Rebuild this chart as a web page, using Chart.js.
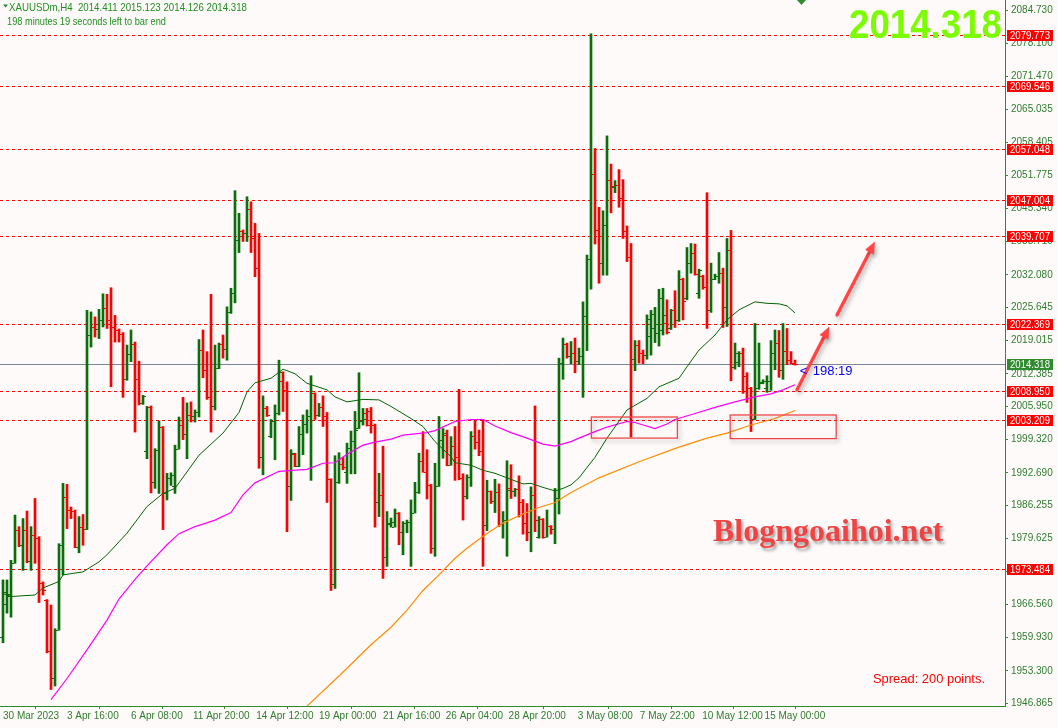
<!DOCTYPE html>
<html>
<head>
<meta charset="utf-8">
<script src="https://cdn.jsdelivr.net/npm/chart.js@4.4.1/dist/chart.umd.min.js"></script>
<style>
  html, body { margin: 0; padding: 0; background: #fffafa; overflow: hidden; }
  canvas { display: block; }
</style>
</head>
<body>
<canvas id="chart" width="1058" height="728"></canvas>
<script>
// XAUUSDm H4 bars (oldest first)
const barOpen = [
  1960.0, 1966.7, 1968.2, 1974.8, 1981.3, 1978.3, 1981.3, 1975.1, 1980.3, 1979.8,
  1970.8, 1967.4, 1957.2, 1951.8, 1961.5, 1978.4, 1987.9, 1985.3, 1985.1, 1978.0,
  1982.0, 1981.6, 2020.2, 2021.7, 2021.3, 2023.0, 2025.4, 2023.0, 2021.7, 2021.1,
  2020.4, 2011.3, 2016.4, 2018.4, 2011.3, 2006.5, 1997.0, 2005.7, 1990.9, 1997.3,
  2001.8, 1988.6, 1991.6, 1990.0, 1997.5, 2002.2, 2000.5, 2004.2, 2004.0, 2004.8,
  2017.2, 2013.1, 2007.7, 2006.0, 2013.6, 2018.3, 2017.4, 2024.6, 2028.5, 2039.0,
  2040.8, 2040.4, 2045.1, 2039.3, 2033.4, 1995.8, 2005.5, 2000.0, 2003.1, 2004.5,
  2011.0, 2009.2, 1990.1, 1996.4, 1994.1, 2000.4, 2002.4, 2004.0, 2008.5, 2004.2,
  2005.7, 2003.9, 1991.4, 1970.6, 1990.8, 1994.5, 1992.9, 1997.6, 1999.1, 2001.6,
  2003.0, 2004.5, 2005.0, 2002.2, 1986.8, 1988.2, 1975.9, 1982.6, 1982.0, 1984.7,
  1981.0, 1982.7, 1983.0, 1984.8, 1988.8, 1995.1, 1992.9, 1990.3, 1977.7, 1990.1,
  1999.3, 2000.3, 1994.3, 1998.0, 1995.9, 1991.6, 1988.1, 1991.9, 2000.0, 1998.9,
  1997.1, 1982.3, 1989.0, 1987.0, 1988.8, 1982.5, 1983.3, 1989.6, 1989.0, 1989.4,
  1986.8, 1982.8, 1981.0, 1988.3, 1980.0, 1983.5, 1980.0, 1982.1, 1981.5, 1987.6,
  2014.6, 2018.3, 2015.9, 2016.5, 2015.0, 2015.9, 2023.8, 2035.2, 2052.1, 2041.0,
  2034.5, 2042.0, 2051.0, 2049.5, 2050.0, 2047.3, 2040.7, 2035.6, 2015.3, 2018.1,
  2016.6, 2016.1, 2020.0, 2021.4, 2020.5, 2021.0, 2022.4, 2021.4, 2025.0, 2023.1,
  2031.2, 2027.5, 2034.5, 2036.5, 2028.5, 2031.8, 2029.6, 2025.1, 2031.2, 2031.9,
  2032.5, 2025.7, 2037.0, 2013.8, 2014.8, 2016.6, 2012.0, 2009.5, 2003.4, 2009.5,
  2010.5, 2009.5, 2011.0, 2016.5, 2018.5, 2013.2, 2017.0, 2015.1, 2014.411
];
const barHigh = [
  1971.4, 1971.4, 1975.3, 1984.3, 1982.0, 1983.6, 1985.1, 1982.0, 1987.6, 1980.0,
  1971.0, 1967.5, 1966.4, 1961.7, 1978.6, 1990.6, 1990.4, 1985.9, 1985.3, 1984.0,
  1984.4, 2025.0, 2024.7, 2023.7, 2025.2, 2028.3, 2028.2, 2029.5, 2024.0, 2021.3,
  2020.6, 2018.1, 2021.1, 2018.7, 2014.9, 2008.1, 2005.9, 2006.0, 1997.5, 2003.0,
  2001.9, 1992.6, 1992.7, 1998.2, 2003.8, 2007.7, 2006.6, 2006.8, 2005.2, 2019.2,
  2021.1, 2016.8, 2028.2, 2018.1, 2018.5, 2020.1, 2025.7, 2029.4, 2048.8, 2044.3,
  2041.0, 2047.6, 2046.6, 2042.3, 2040.3, 2008.0, 2005.9, 2003.3, 2006.2, 2015.1,
  2012.8, 2010.8, 1997.3, 1996.6, 2001.9, 2004.2, 2005.2, 2012.0, 2008.6, 2006.5,
  2008.0, 2004.7, 1991.5, 1996.1, 1996.7, 1995.8, 1998.6, 2001.0, 2004.9, 2012.6,
  2005.5, 2005.5, 2005.7, 2002.4, 1992.6, 1998.0, 1985.0, 1983.7, 1985.5, 1984.8,
  1983.0, 1983.3, 1987.3, 1990.8, 1996.6, 2000.9, 1997.3, 1990.4, 1994.6, 2003.9,
  2001.5, 2001.2, 1999.9, 2001.9, 2009.3, 1992.5, 1992.3, 2000.9, 2003.2, 2001.2,
  2003.3, 1991.2, 1989.1, 1991.4, 1990.5, 1985.0, 1995.1, 1994.3, 1989.6, 1992.1,
  1987.4, 1986.6, 1989.9, 2006.0, 1984.0, 1983.6, 1985.3, 1982.2, 1989.6, 2015.5,
  2019.5, 2018.5, 2018.8, 2019.5, 2017.5, 2026.7, 2036.0, 2080.0, 2057.2, 2045.5,
  2044.8, 2059.7, 2054.1, 2050.8, 2053.0, 2051.0, 2041.8, 2038.3, 2019.0, 2019.0,
  2017.1, 2024.1, 2025.0, 2025.6, 2029.2, 2029.4, 2027.1, 2025.2, 2028.9, 2032.9,
  2031.4, 2037.5, 2038.3, 2038.2, 2033.2, 2032.0, 2048.4, 2034.4, 2032.2, 2036.5,
  2033.4, 2039.3, 2040.9, 2018.5, 2016.8, 2017.5, 2012.6, 2009.7, 2022.4, 2018.5,
  2011.2, 2012.0, 2019.0, 2021.1, 2021.0, 2022.4, 2021.4, 2016.8, 2015.123
];
const barLow = [
  1958.9, 1964.8, 1964.0, 1974.7, 1978.0, 1973.3, 1974.8, 1973.3, 1974.7, 1966.9,
  1968.4, 1956.9, 1949.6, 1950.3, 1961.4, 1972.4, 1981.6, 1983.6, 1977.8, 1976.8,
  1978.3, 1981.4, 2017.7, 2019.7, 2019.4, 2021.7, 2021.4, 2009.8, 2018.7, 2018.7,
  2007.7, 2011.1, 2014.8, 2000.8, 2006.2, 2006.3, 1995.5, 1988.7, 1989.6, 1988.6,
  1981.4, 1987.3, 1990.2, 1988.6, 1997.4, 1999.3, 1995.5, 2002.8, 2002.8, 2003.8,
  2011.6, 2007.3, 2000.8, 2005.2, 2013.4, 2015.5, 2015.1, 2024.4, 2026.5, 2036.5,
  2038.7, 2038.7, 2036.5, 2031.7, 1993.6, 1992.3, 2003.9, 1999.7, 1995.3, 2004.2,
  2004.9, 1981.0, 1987.2, 1993.9, 1993.9, 1996.3, 2000.6, 1991.2, 2003.3, 2003.9,
  2001.9, 1986.8, 1969.3, 1969.7, 1990.6, 1993.3, 1990.6, 1992.5, 1992.5, 2001.5,
  2002.2, 2002.0, 2000.6, 1981.9, 1984.0, 1971.7, 1974.1, 1981.9, 1981.9, 1978.4,
  1976.4, 1980.8, 1974.1, 1984.7, 1988.6, 1992.8, 1987.5, 1976.7, 1976.1, 1990.0,
  1995.6, 1994.1, 1994.2, 1991.2, 1991.3, 1983.3, 1987.5, 1990.0, 1997.4, 1996.1,
  1974.1, 1981.2, 1986.6, 1984.8, 1982.0, 1979.7, 1976.1, 1987.6, 1988.0, 1983.9,
  1980.5, 1979.2, 1977.0, 1981.0, 1979.7, 1979.7, 1979.9, 1980.5, 1978.6, 1984.5,
  2011.3, 2015.5, 2014.4, 2012.6, 2014.2, 2007.7, 2017.0, 2029.2, 2038.2, 2030.4,
  2032.0, 2032.0, 2044.4, 2048.4, 2045.5, 2039.3, 2034.7, 1999.8, 2013.0, 2014.5,
  2014.4, 2015.3, 2016.1, 2018.6, 2017.9, 2020.1, 2020.3, 2021.2, 2021.6, 2022.8,
  2023.1, 2027.1, 2032.4, 2032.0, 2027.4, 2029.2, 2021.4, 2024.6, 2031.1, 2030.4,
  2021.6, 2021.8, 2011.0, 2013.3, 2013.8, 2008.5, 2006.7, 2000.9, 2003.3, 2009.3,
  2010.4, 2008.7, 2009.1, 2013.2, 2011.7, 2011.3, 2014.2, 2014.4, 2014.126
];
const barClose = [
  1969.0, 1968.7, 1974.8, 1981.3, 1978.3, 1981.3, 1975.1, 1980.3, 1979.8, 1970.8,
  1969.4, 1957.2, 1951.8, 1961.5, 1978.4, 1987.9, 1985.3, 1985.1, 1978.0, 1982.0,
  1981.6, 2020.2, 2021.7, 2021.3, 2023.0, 2025.4, 2023.0, 2021.7, 2021.1, 2020.4,
  2011.3, 2016.4, 2018.4, 2011.3, 2006.5, 2007.9, 2005.7, 1990.9, 1997.3, 2001.8,
  1988.6, 1991.6, 1992.2, 1997.5, 2002.2, 2000.5, 2004.2, 2004.0, 2004.8, 2017.2,
  2013.1, 2007.7, 2006.0, 2013.6, 2018.3, 2017.4, 2024.6, 2028.5, 2039.0, 2040.8,
  2040.4, 2045.1, 2039.3, 2033.4, 1995.8, 2005.5, 2004.2, 2003.1, 2004.5, 2012.8,
  2009.2, 1990.1, 1996.6, 1994.1, 2000.4, 2002.4, 2004.0, 2008.5, 2004.2, 2005.7,
  2003.9, 1991.4, 1970.6, 1990.8, 1994.5, 1993.9, 1997.6, 1999.1, 2001.2, 2003.0,
  2003.5, 2002.3, 2002.2, 1986.8, 1988.2, 1975.9, 1982.8, 1983.0, 1984.7, 1981.0,
  1982.7, 1983.0, 1984.8, 1988.8, 1995.1, 1992.9, 1990.3, 1977.7, 1990.1, 1999.3,
  2000.6, 1994.3, 1998.0, 1995.9, 1991.6, 1988.1, 1991.9, 2000.0, 1998.9, 1997.1,
  1982.3, 1989.0, 1987.0, 1988.8, 1982.5, 1983.3, 1989.3, 1989.0, 1989.4, 1986.8,
  1982.8, 1981.0, 1988.3, 1983.3, 1983.5, 1980.0, 1982.1, 1981.5, 1987.6, 2014.6,
  2018.3, 2015.9, 2016.5, 2015.0, 2015.9, 2023.8, 2035.2, 2052.1, 2041.0, 2034.5,
  2042.0, 2051.0, 2049.7, 2050.0, 2047.3, 2040.7, 2035.6, 2015.3, 2018.1, 2016.6,
  2016.1, 2023.2, 2024.3, 2022.3, 2027.4, 2024.0, 2020.8, 2025.0, 2023.1, 2031.2,
  2026.9, 2034.5, 2036.5, 2032.2, 2033.0, 2029.6, 2025.1, 2031.2, 2031.9, 2032.5,
  2025.7, 2037.0, 2013.8, 2016.5, 2016.6, 2012.0, 2009.5, 2003.4, 2009.5, 2010.8,
  2011.0, 2011.0, 2016.5, 2018.5, 2013.2, 2017.0, 2015.1, 2014.6, 2014.318
];

// moving averages, [bar index, price]
const maGreen = [
  [0, 1968.7], [2, 1968.1], [8, 1968.4], [10, 1969.8], [14, 1971.1], [15, 1972.4], [20, 1973.0],
  [24, 1975.0], [26, 1976.4], [31, 1980.7], [36, 1986.0], [40, 1988.6], [43, 1989.6], [44, 1990.7],
  [49, 1996.2], [55, 2000.6], [59, 2004.7], [61, 2008.8], [63, 2010.6], [67, 2011.5], [70, 2013.3],
  [73, 2012.4], [76, 2010.5], [81, 2009.2], [83, 2007.8], [86, 2006.8], [90, 2007.3], [94, 2007.2],
  [97, 2005.9], [102, 2003.5], [105, 2001.9], [108, 1998.9], [112, 1995.9], [113, 1994.7],
  [117, 1994.2], [120, 1993.2], [123, 1992.6], [127, 1991.4], [130, 1990.5], [132, 1990.6],
  [135, 1989.8], [138, 1989.1], [140, 1989.6], [142, 1990.3], [144, 1991.7], [148, 1995.8],
  [151, 1999.6], [156, 2005.2], [161, 2007.5], [164, 2009.8], [169, 2011.5], [171, 2013.8],
  [174, 2017.1], [178, 2020.1], [181, 2023.1], [184, 2025.1], [188, 2026.7], [191, 2026.4],
  [194, 2026.3], [196, 2025.9], [198, 2024.5]
];
const maMagenta = [
  [12, 1947.6], [16, 1951.8], [21, 1957.5], [26, 1963.4], [29, 1967.6], [33, 1971.5], [36, 1974.2],
  [41, 1978.4], [44, 1980.6], [48, 1982.0], [50, 1982.5], [53, 1983.3], [57, 1984.8], [60, 1988.3],
  [63, 1990.7], [69, 1993.0], [74, 1993.3], [76, 1993.4], [80, 1994.6], [83, 1994.7], [86, 1996.4],
  [90, 1998.2], [93, 1998.8], [97, 1999.4], [100, 2000.2], [106, 2000.7], [108, 2001.1],
  [113, 2002.9], [117, 2003.3], [120, 2003.3], [123, 2002.0], [127, 2000.7], [131, 1999.6],
  [135, 1998.4], [138, 1998.0], [142, 1998.9], [144, 1999.6], [148, 2000.9], [151, 2001.8],
  [156, 2002.9], [158, 2002.7], [163, 2001.5], [166, 2002.4], [168, 2003.3], [173, 2004.5],
  [178, 2005.7], [183, 2006.8], [188, 2007.8], [192, 2008.4], [195, 2009.2], [198, 2010.2]
];
const maOrange = [
  [76, 1946.3], [84, 1952.3], [92, 1958.5], [97, 1962.0], [101, 1965.4], [105, 1969.3],
  [109, 1972.4], [113, 1975.7], [116, 1977.7], [120, 1980.1], [125, 1982.7], [130, 1984.5],
  [134, 1985.8], [138, 1986.8], [142, 1988.8], [149, 1991.7], [159, 1994.9], [169, 1997.8],
  [176, 1999.6], [181, 2000.6], [187, 2002.2], [193, 2003.5], [198, 2005.1]
];

const levelPrices = [2079.773, 2069.546, 2057.048, 2047.004, 2039.707, 2022.369, 2008.950, 2003.209, 1973.484];
const lastPrice = 2014.318;
const yTickValues = [2084.730, 2078.100, 2071.470, 2065.035, 2058.405, 2051.775, 2045.340, 2038.710,
  2032.080, 2025.645, 2019.015, 2012.385, 2005.950, 1999.320, 1992.690, 1986.255, 1979.625,
  1972.995, 1966.560, 1959.930, 1953.300, 1946.865];
const xTickIndex = [0, 16, 32, 47.5, 63.3, 79, 95, 110.7, 126.4, 143.7, 159.2, 174.8, 190.4];
const xTickLabels = ['30 Mar 2023', '3 Apr 16:00', '6 Apr 08:00', '11 Apr 20:00', '14 Apr 12:00',
  '19 Apr 00:00', '21 Apr 16:00', '26 Apr 04:00', '28 Apr 20:00', '3 May 08:00', '7 May 22:00',
  '10 May 12:00', '15 May 00:00'];

// drawn objects: [bar, price, bar, price]
const boxMarks = [[147.1, 2003.8, 168.6, 1999.6], [181.8, 2004.2, 208.3, 1999.5]];
const arrowMarks = [[198.5, 2009.2, 206.6, 2021.8], [208.5, 2024.1, 218.0, 2038.7]];

const headerLine1 = 'XAUUSDm,H4  2014.411 2015.123 2014.126 2014.318';
const headerLine2 = '198 minutes 19 seconds left to bar end';

const upColor = '#0a6e0a';
const downColor = '#ff0000';
const axisColor = '#2e8b2e';
const textColor = '#2e7d2e';

// MT4 uses a narrow UI font; fall back if the narrow face is missing
function pickFont() {
  const c = document.createElement('canvas').getContext('2d');
  c.font = '11px monospace';
  const a = c.measureText('2084.730 abc').width;
  c.font = '11px "Liberation Sans Narrow", monospace';
  const b = c.measureText('2084.730 abc').width;
  return a !== b ? { family: '"Liberation Sans Narrow"', size: 11 } : { family: '"Liberation Sans"', size: 10 };
}
const uiFont = pickFont();
const drawFontCss = '11px ' + uiFont.family;   // own texts get squeezed with maxWidth

function drawArrow(ctx, x1, y1, x2, y2) {
  const ang = Math.atan2(y2 - y1, x2 - x1), head = 12, w = 5;
  const c = Math.cos(ang), s = Math.sin(ang);
  ctx.beginPath();
  ctx.moveTo(x1, y1);
  ctx.lineTo(x2 - c * head * 0.8, y2 - s * head * 0.8);
  ctx.stroke();
  ctx.beginPath();
  ctx.moveTo(x2, y2);
  ctx.lineTo(x2 - head * c + w * s, y2 - head * s - w * c);
  ctx.lineTo(x2 - head * c - w * s, y2 - head * s + w * c);
  ctx.closePath();
  ctx.fill();
}

const mtOverlay = {
  id: 'mtOverlay',
  beforeDatasetsDraw(chart) {
    const { ctx, chartArea: a, scales: { y } } = chart;
    ctx.save();
    ctx.lineWidth = 1;
    ctx.strokeStyle = '#ff0000';
    ctx.setLineDash([3, 3]);
    levelPrices.forEach(p => {
      const py = Math.round(y.getPixelForValue(p)) + 0.5;
      ctx.beginPath(); ctx.moveTo(a.left, py); ctx.lineTo(a.right, py); ctx.stroke();
    });
    ctx.setLineDash([]);
    ctx.strokeStyle = '#778899';
    const ly = Math.round(y.getPixelForValue(lastPrice)) + 0.5;
    ctx.beginPath(); ctx.moveTo(a.left, ly); ctx.lineTo(a.right, ly); ctx.stroke();
    ctx.restore();
  },
  afterDatasetDraw(chart, args) {
    if (args.meta.type !== 'bar') return;
    const { ctx, scales: { x, y } } = chart;
    ctx.save();
    barOpen.forEach((o, i) => {
      const px = Math.round(x.getPixelForValue(i));
      ctx.fillStyle = barClose[i] >= o ? upColor : downColor;
      ctx.fillRect(px - 3, Math.round(y.getPixelForValue(o)), 2, 1);
      ctx.fillRect(px + 1, Math.round(y.getPixelForValue(barClose[i])), 2, 1);
    });
    ctx.restore();
  },
  afterDatasetsDraw(chart) {
    const { ctx, chartArea: a, scales: { x, y } } = chart;
    ctx.save();
    ctx.beginPath(); ctx.rect(a.left, a.top, a.right - a.left, a.bottom - a.top); ctx.clip();
    ctx.shadowColor = 'rgba(0,0,0,0.28)';
    ctx.shadowBlur = 4; ctx.shadowOffsetX = 2; ctx.shadowOffsetY = 3;
    ctx.strokeStyle = '#f04848'; ctx.lineWidth = 1.3;
    boxMarks.forEach(([i1, p1, i2, p2]) => {
      const x1 = x.getPixelForValue(i1), y1 = y.getPixelForValue(p1);
      ctx.strokeRect(x1, y1, x.getPixelForValue(i2) - x1, y.getPixelForValue(p2) - y1);
    });
    ctx.strokeStyle = '#ff4545'; ctx.fillStyle = '#ff4545'; ctx.lineWidth = 3.4; ctx.lineCap = 'round';
    arrowMarks.forEach(([i1, p1, i2, p2]) => {
      drawArrow(ctx, x.getPixelForValue(i1), y.getPixelForValue(p1), x.getPixelForValue(i2), y.getPixelForValue(p2));
    });
    // watermark
    ctx.shadowColor = 'rgba(0,0,0,0.35)';
    ctx.shadowBlur = 3; ctx.shadowOffsetX = 2; ctx.shadowOffsetY = 3;
    ctx.fillStyle = '#f04444';
    ctx.font = 'bold 32px "Liberation Serif", serif';
    ctx.textBaseline = 'alphabetic'; ctx.textAlign = 'left';
    ctx.fillText('Blogngoaihoi.net', 713, 541, 232);
    ctx.restore();

    // bar timer next to the last bar
    ctx.save();
    ctx.fillStyle = '#0000ff';
    ctx.font = '13px "Liberation Sans", sans-serif';
    ctx.textBaseline = 'alphabetic';
    const tx = x.getPixelForValue(199.2), ty = y.getPixelForValue(lastPrice) + 11;
    ctx.fillText('<', tx, ty);
    ctx.fillText('198:19', tx + 13, ty, 40);
    ctx.restore();
  },
  afterDraw(chart) {
    const { ctx, chartArea: a, scales: { y } } = chart;
    ctx.save();
    ctx.font = drawFontCss;
    ctx.textBaseline = 'middle';
    ctx.textAlign = 'left';
    const tag = (p, bg) => {
      const py = Math.round(y.getPixelForValue(p));
      ctx.fillStyle = bg;
      ctx.fillRect(a.right + 2, py - 5, 46, 11);
      ctx.fillStyle = '#ffffff';
      ctx.fillText(p.toFixed(3), a.right + 5, py + 0.5, 40);
    };
    levelPrices.forEach(p => tag(p, '#ff0000'));
    tag(lastPrice, '#2e8b2e');

    // header
    ctx.fillStyle = '#1f8f1f';
    ctx.beginPath(); ctx.moveTo(3, 4.5); ctx.lineTo(8, 4.5); ctx.lineTo(5.5, 7.5); ctx.closePath(); ctx.fill();
    ctx.textBaseline = 'alphabetic';
    ctx.fillText(headerLine1, 9, 10.5, 238);
    ctx.fillText(headerLine2, 7, 25, 159);

    // shift marker at top
    ctx.fillStyle = axisColor;
    ctx.beginPath(); ctx.moveTo(797, 0); ctx.lineTo(806, 0); ctx.lineTo(801.5, 5); ctx.closePath(); ctx.fill();

    // big price
    ctx.fillStyle = '#7cfc00';
    ctx.font = 'bold 40px "Liberation Sans", sans-serif';
    ctx.textAlign = 'right';
    ctx.fillText(lastPrice.toFixed(3), 1002, 38, 153);

    ctx.fillStyle = '#ff0000';
    ctx.font = '13px "Liberation Sans", sans-serif';
    ctx.textAlign = 'left';
    ctx.fillText('Spread: 200 points.', 873, 683, 112);
    ctx.restore();
  }
};

const tickFont = { family: uiFont.family, size: uiFont.size };

new Chart(document.getElementById('chart'), {
  type: 'bar',
  data: {
    datasets: [
      { type: 'line', data: maGreen.map(([i, p]) => ({ x: i, y: p })), borderColor: '#006400',
        borderWidth: 1, pointRadius: 0, tension: 0, order: 1 },
      { type: 'line', data: maMagenta.map(([i, p]) => ({ x: i, y: p })), borderColor: '#ff00ff',
        borderWidth: 1.2, pointRadius: 0, tension: 0, order: 1 },
      { type: 'line', data: maOrange.map(([i, p]) => ({ x: i, y: p })), borderColor: '#ff8c00',
        borderWidth: 1.2, pointRadius: 0, tension: 0, order: 1 },
      { type: 'bar', data: barLow.map((l, i) => ({ x: i, y: [l, barHigh[i]] })),
        backgroundColor: barOpen.map((o, i) => barClose[i] >= o ? upColor : downColor),
        barThickness: 2, borderWidth: 0, grouped: false, order: 5 }
    ]
  },
  options: {
    responsive: false,
    animation: false,
    layout: { padding: 0 },
    plugins: { legend: { display: false }, tooltip: { enabled: false } },
    scales: {
      x: {
        type: 'linear',
        min: -0.75,
        max: 250.5,
        offset: false,
        bounds: 'data',
        afterBuildTicks: s => { s.ticks = xTickIndex.map(v => ({ value: v })); },
        afterFit: s => { s.height = 22; s.paddingLeft = 0; s.paddingRight = 0; },
        ticks: { autoSkip: false, maxRotation: 0, align: 'start', padding: 1, color: textColor,
          font: tickFont, callback: (v, i) => xTickLabels[i] },
        grid: { drawOnChartArea: false, tickLength: 3, color: axisColor },
        border: { color: axisColor }
      },
      y: {
        type: 'linear',
        position: 'right',
        min: 1946.33,
        max: 2086.72,
        bounds: 'data',
        afterBuildTicks: s => { s.ticks = yTickValues.map(v => ({ value: v })); },
        afterFit: s => { s.width = 53; s.paddingTop = 0; s.paddingBottom = 0; },
        ticks: { padding: 3, color: textColor, font: tickFont, callback: v => v.toFixed(3) },
        grid: { drawOnChartArea: false, tickLength: 3, color: axisColor },
        border: { color: axisColor }
      }
    }
  },
  plugins: [mtOverlay]
});
</script>
</body>
</html>
